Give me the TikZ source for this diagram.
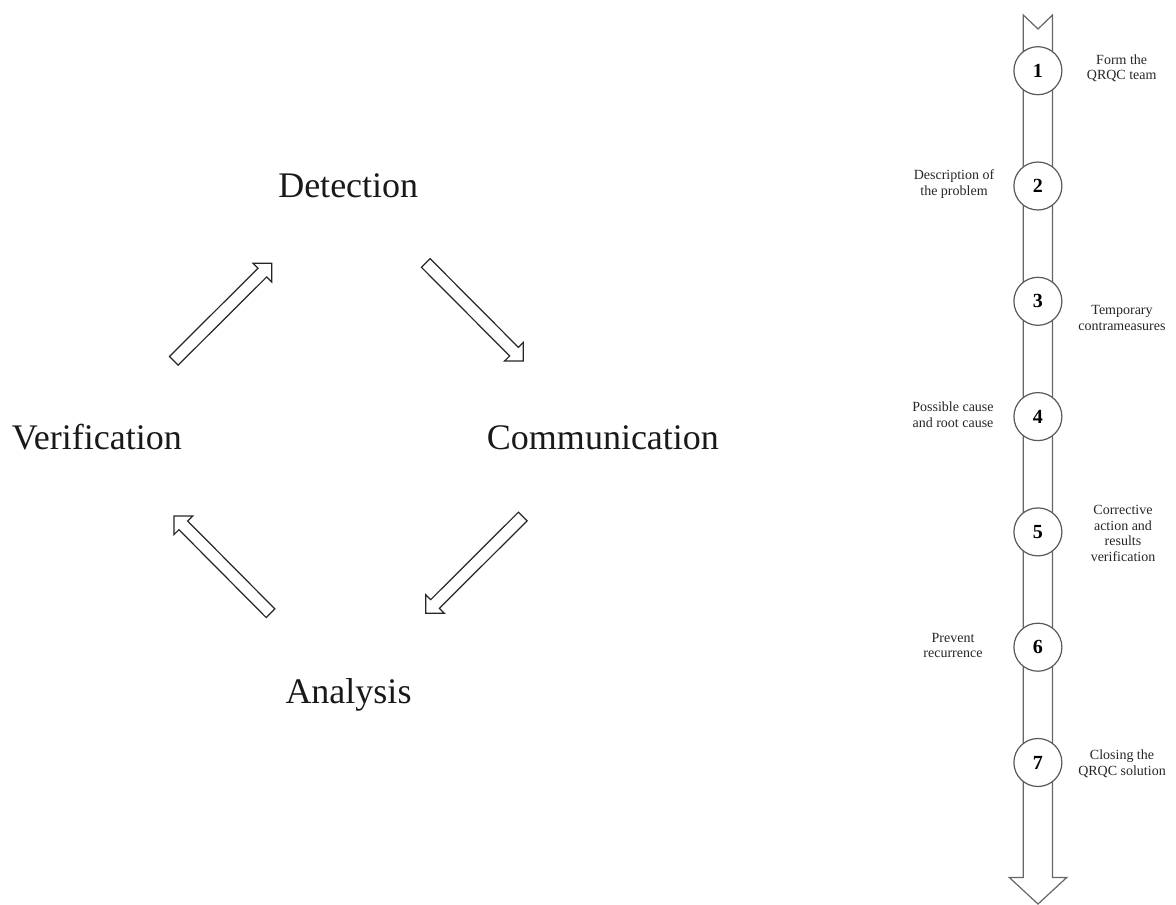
\documentclass[tikz,border=0pt]{standalone}
\usepackage{fontspec}
\setmainfont{Liberation Serif}
\usetikzlibrary{calc}

% hollow block arrow from a tail point to a tip point
\newcommand\blockarrow[3]{%
  \coordinate (#1t) at #2;
  \coordinate (#1h) at #3;
  \coordinate (#1b) at ($(#1h)!9.9pt!(#1t)$);
  \draw[blockarrowstyle]
    ($(#1t)!4.6pt!90:(#1h)$) -- ($(#1b)!4.6pt!90:(#1h)$) --
    ($(#1b)!9.9pt!90:(#1h)$) -- (#1h) --
    ($(#1b)!9.9pt!-90:(#1h)$) -- ($(#1b)!4.6pt!-90:(#1h)$) --
    ($(#1t)!4.6pt!-90:(#1h)$) -- cycle;
}

\begin{document}
\begin{tikzpicture}[x=0.75pt,y=-0.75pt,
  biglabel/.style={font=\fontsize{27}{32}\selectfont, inner sep=0pt, text=black!90},
  steplabel/.style={font=\fontsize{10.5}{11.6}\selectfont, align=center, inner sep=0pt, text=black!85},
  stepcircle/.style={circle, draw=black!65, line width=0.9pt, fill=white,
    minimum size=36pt, inner sep=0pt, font=\fontsize{15}{18}\selectfont\bfseries},
  shaftstyle/.style={draw=black!60, line width=0.9pt, fill=white, line join=miter},
  blockarrowstyle/.style={draw=black!85, line width=0.9pt, fill=white, line join=miter}]
\useasboundingbox (0,0) rectangle (1176,905);

% ---- QRQC cycle ----
\node[biglabel, anchor=base west] (det) at (278,197.3) {Detection};
\node[biglabel, anchor=base west] (ver) at (11.7,449.7) {Verification};
\node[biglabel, anchor=base west] (com) at (486.7,449.7) {Communication};
\node[biglabel, anchor=base] (ana) at (348.5,703.5) {Analysis};

\blockarrow{vd}{(173.8,360.8)}{(271.7,263.3)}
\blockarrow{dc}{(425.8,263)}{(523.3,361)}
\blockarrow{ca}{(522.8,516.5)}{(425.7,613.3)}
\blockarrow{av}{(270.5,613.2)}{(174,516)}

% ---- seven steps along the timeline ----
\draw[shaftstyle] (1023.3,15) -- (1023.3,877.5) -- (1009.3,877.5) -- (1038,904)
  -- (1066.7,877.5) -- (1052.5,877.5) -- (1052.5,15) -- (1038,29) -- cycle;

\foreach \i in {1,...,7}{
  \node[stepcircle] (c\i) at (1037.9,{70.7+(\i-1)*115.3}) {\i};
}

\node[steplabel] (l1) at (1121.7,68.5) {Form the\\QRQC team};
\node[steplabel] (l2) at (954,184) {Description of\\the problem};
\node[steplabel] (l3) at (1122,318) {Temporary\\contrameasures};
\node[steplabel] (l4) at (953,414.7) {Possible cause\\and root cause};
\node[steplabel] (l5) at (1123,533.5) {Corrective\\action and\\results\\verification};
\node[steplabel] (l6) at (953,645.5) {Prevent\\recurrence};
\node[steplabel] (l7) at (1122,764) {Closing the\\QRQC solution};
\end{tikzpicture}
\end{document}
